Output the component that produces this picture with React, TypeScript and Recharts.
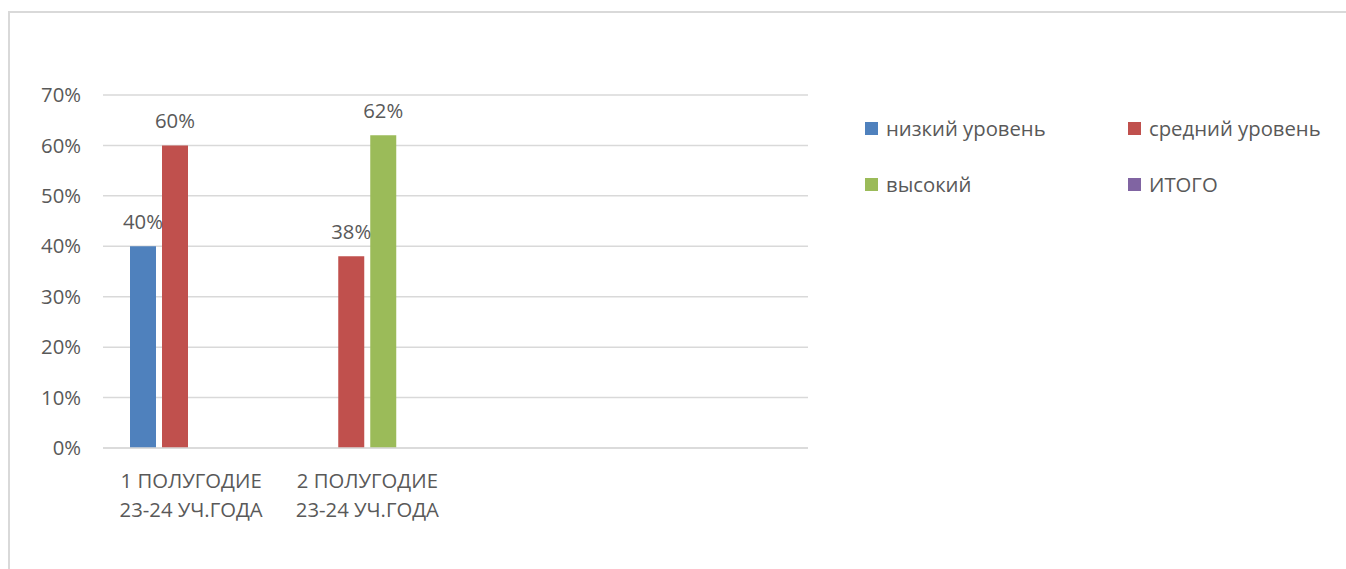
import React from 'react';
import { BarChart, Bar, XAxis, YAxis, CartesianGrid, LabelList } from 'recharts';

const categoryLine1 = ['1 ПОЛУГОДИЕ', '2 ПОЛУГОДИЕ', '', ''];
const categoryLine2 = ['23-24 УЧ.ГОДА', '23-24 УЧ.ГОДА', '', ''];

const lowValues = [40, null, null, null];
const midValues = [60, 38, null, null];
const highValues = [null, 62, null, null];
const totalValues = [null, null, null, null];

const yTicks = [0, 10, 20, 30, 40, 50, 60, 70];

const seriesList = [
  { key: 'low', name: 'низкий уровень', color: '#4F81BD', values: lowValues },
  { key: 'mid', name: 'средний уровень', color: '#C0504D', values: midValues },
  { key: 'high', name: 'высокий', color: '#9BBB59', values: highValues },
  { key: 'total', name: 'ИТОГО', color: '#8064A2', values: totalValues },
];

const data = categoryLine1.map((line1, i) => {
  const row: any = { name: `${line1} ${categoryLine2[i]}`.trim(), idx: i };
  seriesList.forEach(s => {
    row[s.key] = s.values[i];
  });
  return row;
});

const FONT = '"Open Sans", sans-serif';
const TEXT = '#595959';
const FS = 20.3;

const CategoryTick = ({ x, y, payload }: any) => {
  const i = payload.index;
  return (
    <text x={x} textAnchor="middle" fill={TEXT} fontSize={FS} fontFamily={FONT}>
      <tspan x={x} y={y + 40}>{categoryLine1[i]}</tspan>
      <tspan x={x} y={y + 69}>{categoryLine2[i]}</tspan>
    </text>
  );
};

// legend laid out in two columns like the original
const LegendBox = () => {
  const cells = [
    { left: 0, top: 0 },
    { left: 263, top: 0 },
    { left: 0, top: 56 },
    { left: 263, top: 56 },
  ];
  return (
    <div style={{ position: 'fixed', left: 865, top: 116, width: 470, height: 80 }}>
      {seriesList.map((s, i) => (
        <div
          key={s.key}
          style={{
            position: 'absolute',
            left: cells[i].left,
            top: cells[i].top,
            display: 'flex',
            alignItems: 'center',
            fontFamily: FONT,
            fontSize: FS,
            color: TEXT,
            whiteSpace: 'nowrap',
            height: 24,
          }}
        >
          <span style={{ width: 13, height: 13, background: s.color, display: 'inline-block', marginRight: 8 }} />
          {s.name}
        </div>
      ))}
    </div>
  );
};

const fmt = (v: any) => (v == null ? '' : `${v}%`);

export default function App() {
  return (
    <div>
      <div
        style={{
          position: 'fixed',
          left: 8,
          top: 11,
          width: 1400,
          height: 600,
          border: '2px solid #d9d9d9',
          background: '#fff',
        }}
      />
      <div style={{ position: 'fixed', left: 0, top: 0 }}>
        <BarChart
          width={1346}
          height={569}
          data={data}
          margin={{ top: 95, right: 538, left: 0, bottom: 0 }}
          barGap={6}
        >
          <CartesianGrid vertical={false} stroke="#d9d9d9" strokeWidth={1.5} />
          <XAxis
            dataKey="idx"
            axisLine={{ stroke: '#d9d9d9', strokeWidth: 1.5 }}
            tickLine={false}
            tickSize={0}
            tickMargin={0}
            height={121}
            interval={0}
            tick={<CategoryTick />}
          />
          <YAxis
            domain={[0, 70]}
            ticks={yTicks}
            width={103}
            axisLine={false}
            tickLine={false}
            tickSize={0}
            tickMargin={22}
            tickFormatter={(v: number) => `${v}%`}
            tick={{ fill: TEXT, fontSize: FS, fontFamily: FONT }}
          />
          {seriesList.map(s => (
            <Bar key={s.key} dataKey={s.key} name={s.name} fill={s.color} barSize={26} isAnimationActive={false}>
              <LabelList
                dataKey={s.key}
                position="top"
                offset={17}
                formatter={fmt}
                fill={TEXT}
                fontSize={FS}
                fontFamily={FONT}
              />
            </Bar>
          ))}
        </BarChart>
      </div>
      <LegendBox />
    </div>
  );
}
